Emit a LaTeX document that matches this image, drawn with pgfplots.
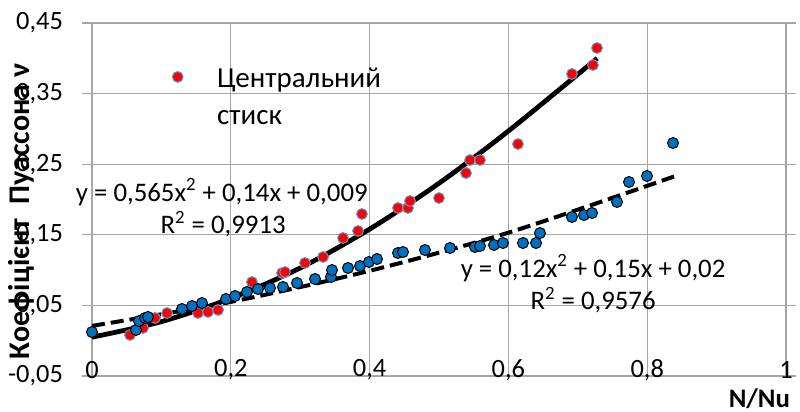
\documentclass[border=0pt]{standalone}
\usepackage{fontspec}
\setmainfont{Carlito}
\usepackage{pgfplots}
\pgfplotsset{compat=1.18}
\definecolor{gridc}{RGB}{166,166,166}
\definecolor{dotblue}{RGB}{0,112,192}
\definecolor{edgeblue}{RGB}{91,155,213}
\begin{document}
\begin{tikzpicture}
\begin{axis}[
  scale only axis, width=347pt, height=176.5pt,
  xmin=0, xmax=1, ymin=-0.05, ymax=0.45,
  xtick={0,0.2,0.4,0.6,0.8,1},
  xticklabels={0,{0,2},{0,4},{0,6},{0,8},1},
  ytick={-0.05,0.05,0.15,0.25,0.35,0.45},
  yticklabels={{-0,05},{0,05},{0,15},{0,25},{0,35},{0,45}},
  grid=major, grid style={draw=gridc, line width=0.6pt},
  axis line style={draw=none},
  tick align=outside, major tick length=5pt,
  tick style={draw=gridc, line width=0.6pt},
  xtick style={draw=none},
  ticklabel style={font=\fontsize{13.2}{15.8}\selectfont},
  yticklabel style={anchor=east, xshift=-6pt},
  xticklabel style={anchor=center, yshift=8pt},
  clip=false,
  legend style={draw=none, fill=none, at={(axis cs:0.1065,0.4045)}, anchor=north west,
    font=\fontsize{14.5}{17}\selectfont,
    /tikz/every odd column/.append style={column sep=15pt}},
  legend cell align=left,
]
% red: central compression
\addplot[only marks, mark=*, mark size=2.7pt, mark options={fill=red, draw=edgeblue, line width=0.5pt}] coordinates {
(0.0548,0.0081) (0.0735,0.0180) (0.0908,0.0322) (0.1081,0.0392) (0.1527,0.0392)
(0.1671,0.0407) (0.1816,0.0435) (0.2305,0.0831) (0.2738,0.0959) (0.2781,0.0973)
(0.3069,0.1101) (0.3329,0.1186) (0.3617,0.1455) (0.3833,0.1554) (0.3890,0.1795)
(0.4409,0.1880) (0.4553,0.1880) (0.4582,0.1979) (0.5000,0.2021) (0.5389,0.2375)
(0.5447,0.2559) (0.5591,0.2559) (0.6138,0.2786) (0.6916,0.3778) (0.7219,0.3905)
(0.7277,0.4146)
};
\addlegendentry{\begin{tabular}[t]{@{}l@{}}Центральний\\[1.5pt]стиск\end{tabular}}
% blue
\addplot[only marks, mark=*, mark size=2.75pt, mark options={fill=dotblue, draw=black, line width=0.5pt}, forget plot] coordinates {
(0,0.0123) (0.0634,0.0152) (0.0677,0.0279) (0.0764,0.0322) (0.0807,0.0336)
(0.1297,0.0449) (0.1441,0.0492) (0.1585,0.0534) (0.1931,0.0591) (0.2061,0.0633)
(0.2233,0.0690) (0.2392,0.0732) (0.2565,0.0746) (0.2752,0.0761) (0.2954,0.0817)
(0.3213,0.0874) (0.3444,0.0902) (0.3458,0.1001) (0.3689,0.1030) (0.3862,0.1058)
(0.3991,0.1115) (0.4107,0.1157) (0.4409,0.1242) (0.4481,0.1256) (0.4798,0.1285)
(0.5159,0.1313) (0.5519,0.1327) (0.5591,0.1341) (0.5793,0.1356) (0.5922,0.1384)
(0.6210,0.1384) (0.6398,0.1384) (0.6455,0.1525) (0.6916,0.1752) (0.7089,0.1780)
(0.7205,0.1809) (0.7565,0.1965) (0.7738,0.2248) (0.7997,0.2333) (0.8372,0.2800)
};
% solid trend
\addplot[black, line width=2.4pt, smooth, forget plot] coordinates {
(0,0.005) (0.1,0.027) (0.2,0.060) (0.3,0.103) (0.4,0.158) (0.5,0.223) (0.6,0.297) (0.728,0.400)
};
% dashed trend
\addplot[black, line width=2pt, dash pattern=on 6.5pt off 3pt, smooth, forget plot] coordinates {
(0,0.021) (0.2,0.055) (0.4,0.099) (0.6,0.153) (0.84,0.233)
};
\node[font=\fontsize{13.4}{16}\selectfont] at (axis cs:0.187,0.2106) {y = 0,565x\textsuperscript{2} + 0,14x + 0,009};
\node[font=\fontsize{13.4}{16}\selectfont] at (axis cs:0.189,0.1653) {R\textsuperscript{2} = 0,9913};
\node[font=\fontsize{13.4}{16}\selectfont] at (axis cs:0.722,0.103) {y = 0,12x\textsuperscript{2} + 0,15x + 0,02};
\node[font=\fontsize{13.4}{16}\selectfont] at (axis cs:0.722,0.0576) {R\textsuperscript{2} = 0,9576};
\node[font=\fontsize{15}{18}\selectfont\bfseries, rotate=90] at (axis cs:-0.102,0.183) {Коефіцієнт~~Пуассона ν};
\node[font=\fontsize{13.4}{16}\selectfont\bfseries, anchor=east] at (axis cs:1.0159,-0.0826) {N/Nu};
\end{axis}
\pgfresetboundingbox
\useasboundingbox (-46pt,-18pt) rectangle (354pt,188pt);
\end{tikzpicture}
\end{document}
